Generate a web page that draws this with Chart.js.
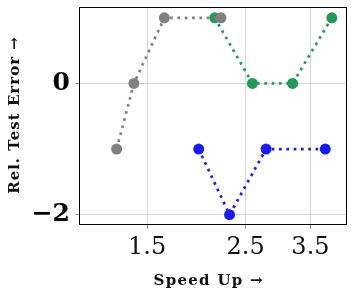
<!DOCTYPE html>
<html>
<head>
<meta charset="utf-8">
<style>
html,body{margin:0;padding:0;background:#fff;}
canvas{display:block;}
</style>
<script src="https://cdn.jsdelivr.net/npm/chart.js@4.4.1/dist/chart.umd.min.js"></script>
</head>
<body>
<canvas id="c" width="352" height="296"></canvas>
<script>
// Data
const grayX  = [1.28, 1.40, 1.64, 2.20];
const grayY  = [-1, 0, 1, 1];
const greenX = [2.13, 2.59, 3.19, 3.91];
const greenY = [1, 0, 0, 1];
const blueX  = [1.96, 2.30, 2.78, 3.78];
const blueY  = [-1, -2, -1, -1];
const xTicks = [1.5, 2.5, 3.5];
const yTicks = [-2, 0];
const xTitle = 'Speed Up \u2192';
const yTitle = 'Rel. Test Error \u2192';

const pts = (xs, ys) => xs.map((x, i) => ({x: x, y: ys[i]}));

function ds(xs, ys, color, order) {
  return {
    data: pts(xs, ys),
    showLine: true,
    borderColor: color,
    backgroundColor: color,
    pointBackgroundColor: color,
    pointBorderColor: color,
    pointRadius: 5.5,
    pointBorderWidth: 0,
    borderWidth: 2.7,
    borderDash: [2.7, 4.6],
    borderCapStyle: 'butt',
    order: order
  };
}

const frame = {
  id: 'frame',
  afterLayout(chart) {
    const spec = {x: {ls: '1.3px', dx: -4, dy: 0}, y: {ls: '1.0px', dx: 0, dy: -1}};
    Object.keys(spec).forEach(id => {
      const s = chart.scales[id];
      if (!s || s._patched) return;
      const orig = s.drawTitle;
      s.drawTitle = function () {
        const ctx = this.ctx;
        ctx.save();
        ctx.translate(spec[id].dx, spec[id].dy);
        try { ctx.letterSpacing = spec[id].ls; } catch (e) {}
        orig.apply(this, arguments);
        ctx.restore();
      };
      s._patched = true;
    });
  },
  afterDraw(chart) {
    const a = chart.chartArea, ctx = chart.ctx;
    ctx.save();
    ctx.strokeStyle = '#000';
    ctx.lineWidth = 1;
    ctx.strokeRect(Math.round(a.left) + 0.5, Math.round(a.top) + 0.5,
                   Math.round(a.right - a.left) - 1, Math.round(a.bottom - a.top) - 1);
    ctx.restore();
  }
};

new Chart(document.getElementById('c'), {
  type: 'scatter',
  data: {
    datasets: [
      ds(grayX, grayY, '#808080', 0),
      ds(greenX, greenY, '#239a57', 1),
      ds(blueX, blueY, '#1a1af5', 2)
    ]
  },
  options: {
    responsive: false,
    animation: false,
    layout: {padding: {top: 7, right: 5, left: 0, bottom: 0}},
    plugins: {legend: {display: false}, tooltip: {enabled: false}},
    scales: {
      x: {
        type: 'logarithmic',
        min: 1.053, max: 4.22,
        bounds: 'data',
        afterBuildTicks(s) { s.ticks = xTicks.map(v => ({value: v})); },
        afterFit(s) { s.height = 71; s.paddingLeft = 0; s.paddingRight = 0; },
        ticks: {
          autoSkip: false, maxRotation: 0,
          color: '#111',
          font: {family: 'DejaVu Serif', size: 24},
          padding: 4,
          callback: v => Number(v).toFixed(1)
        },
        grid: {color: '#d4d4d4', lineWidth: 1, tickLength: 4, tickColor: '#999'},
        border: {display: false},
        title: {
          display: true, text: xTitle, color: '#111',
          font: {family: 'DejaVu Serif', size: 15, weight: 'bold'},
          padding: {top: 0, bottom: 6}
        }
      },
      y: {
        type: 'linear',
        min: -2.157, max: 1.165,
        afterBuildTicks(s) { s.ticks = yTicks.map(v => ({value: v})); },
        afterFit(s) { s.width = 79; s.paddingTop = 0; s.paddingBottom = 0; },
        ticks: {
          autoSkip: false,
          color: '#000',
          font: {family: 'DejaVu Serif', size: 25, weight: 'bold'},
          padding: 5,
          callback: v => (v < 0 ? '\u2212' + Math.abs(v) : String(v))
        },
        grid: {color: '#d4d4d4', lineWidth: 1, tickLength: 4, tickColor: '#999'},
        border: {display: false},
        title: {
          display: true, text: yTitle, color: '#111',
          font: {family: 'DejaVu Serif', size: 15, weight: 'bold'},
          padding: {top: 6, bottom: 0}
        }
      }
    }
  },
  plugins: [frame]
});
</script>
</body>
</html>
